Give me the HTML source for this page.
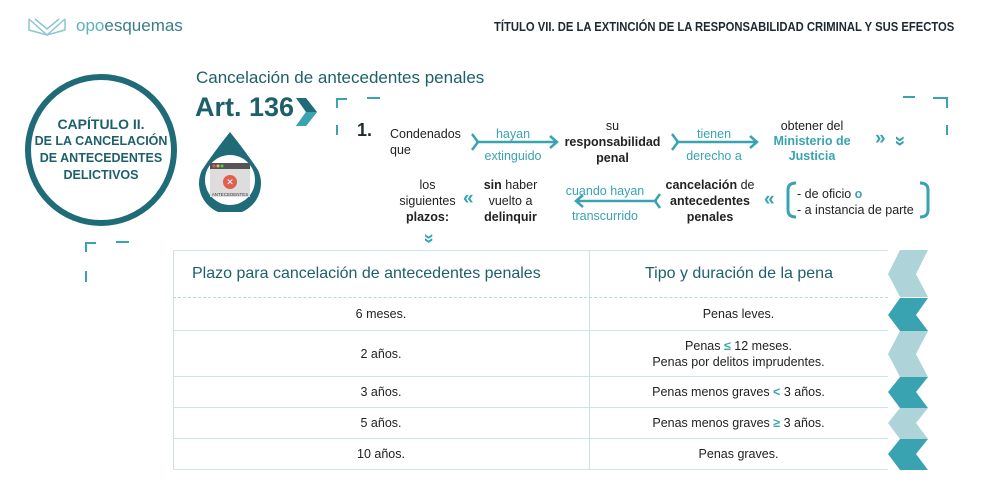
<!DOCTYPE html>
<html><head><meta charset="utf-8"><style>
*{margin:0;padding:0;box-sizing:border-box}
body{width:985px;height:483px;background:#fff;position:relative;overflow:hidden;font-family:"Liberation Sans",sans-serif;color:#222}
.a{position:absolute}
.c{text-align:center}
.t{color:#3aa3b1}
.dk{color:#1d5f6b}
b{font-weight:bold}
.row{position:absolute;left:173px;width:715px;border-bottom:1px solid #cde3e8;font-size:12.5px;display:flex;align-items:center}
.row div{flex:none;text-align:center}
</style></head><body>
<!-- logo -->
<svg class="a" style="left:27px;top:16px" width="44" height="22"><g fill="none" stroke="#8cc6d0" stroke-width="1.5"><path d="M2 3 L20 19 L38 3"/><path d="M2 3 L2 14 L20 19 L38 14 L38 3"/><path d="M8 3 L20 13 L32 3"/></g></svg>
<div class="a t" style="left:76px;top:16px;font-size:17px;color:#5bb3c2">opo<span style="color:#3a7d8a">esquemas</span></div>
<div class="a" style="left:494px;top:20px;width:455px;white-space:nowrap;font-size:12.5px;font-weight:bold;color:#1e2a30;transform:scaleX(0.9);transform-origin:left top">TÍTULO VII. DE LA EXTINCIÓN DE LA RESPONSABILIDAD CRIMINAL Y SUS EFECTOS</div>
<!-- circle -->
<div class="a" style="left:25px;top:74px;width:152px;height:152px;border:6px solid #1f6b78;border-radius:50%"></div>
<div class="a c dk" style="left:30px;top:116px;width:142px;font-weight:bold;line-height:17px;font-size:14px">CAPÍTULO II.<div style="font-size:12.5px;line-height:17px">DE LA CANCELACIÓN<br>DE ANTECEDENTES<br>DELICTIVOS</div></div>
<div class="a dk" style="left:196px;top:68px;font-size:17px">Cancelación de antecedentes penales</div>
<div class="a dk" style="left:195px;top:92px;font-size:27px;font-weight:bold">Art. 136</div>
<svg class="a" style="left:296px;top:98px" width="22" height="28"><polygon points="0,0 10,0 21,14 10,28 0,28 10,14" fill="#1f6b78"/><polygon points="0,14 21,14 10,28 0,28 10,14" fill="#3aa3b1"/></svg>
<!-- drop -->
<svg class="a" style="left:196px;top:130px" width="68" height="82"><path d="M34 2 Q50 22 62 40 A31 31 0 1 1 6 40 Q18 22 34 2Z" fill="#1f6b78"/><circle cx="34" cy="50" r="25" fill="#fff"/><rect x="14" y="33" width="40" height="34" fill="#ddd"/><rect x="14" y="33" width="40" height="6" fill="#555"/><circle cx="18" cy="36" r="1.5" fill="#e55"/><circle cx="22" cy="36" r="1.5" fill="#eb3"/><circle cx="26" cy="36" r="1.5" fill="#5c5"/><circle cx="34" cy="52" r="7" fill="#e06050"/><text x="34" y="55" font-size="9" fill="#fff" text-anchor="middle" font-family="Liberation Sans">✕</text><text x="34" y="66" font-size="4.5" fill="#333" text-anchor="middle" font-family="Liberation Sans">ANTECEDENTES</text></svg>
<!-- brackets -->
<svg class="a" style="left:0;top:0" width="985" height="483"><g stroke="#3aa3b1" stroke-width="2" fill="none"><path d="M337 108 V99 H347"/><path d="M367 98 H380"/><path d="M337 125 V135"/><path d="M903 97 H915"/><path d="M933 98 H947 V108"/><path d="M947 125 V135"/><path d="M86 252 V243 H96"/><path d="M116 242 H129"/><path d="M86 271 V282"/>
<path d="M472 134 L478 142 L472 150 M476 142 H556 M550 136 L557 142 L550 148" stroke-width="2.5"/>
<path d="M672 134 L678 142 L672 150 M676 142 H756 M750 136 L757 142 L750 148" stroke-width="2.5"/>
<path d="M660 194 L655 201 L660 208 M657 201 H577 M583 195 L576 201 L583 207" stroke-width="2.5"/>
<path d="M796 183 Q788 183 788 190 V210 Q788 217 796 217" stroke-width="3"/>
<path d="M920 183 Q928 183 928 190 V210 Q928 217 920 217" stroke-width="3"/></g></svg>
<div class="a" style="left:357px;top:120px;font-size:18px;font-weight:bold;color:#1e2a30">1.</div>
<div class="a" style="left:390px;top:126px;font-size:12.5px;line-height:16px">Condenados<br>que</div>
<div class="a c t" style="left:476px;top:123px;width:74px;font-size:12.5px;line-height:22px">hayan<br>extinguido</div>
<div class="a c" style="left:560px;top:118px;width:105px;font-size:12.5px;line-height:16px">su<br><b>responsabilidad</b><br><b>penal</b></div>
<div class="a c t" style="left:674px;top:123px;width:80px;font-size:12.5px;line-height:22px">tienen<br>derecho a</div>
<div class="a c" style="left:762px;top:119px;width:100px;font-size:12.5px;line-height:15px">obtener del<br><b class="t">Ministerio de<br>Justicia</b></div>
<div class="a t" style="left:875px;top:128px;font-size:19px;font-weight:bold">»</div>
<div class="a t" style="left:894px;top:130px;font-size:19px;font-weight:bold;transform:rotate(90deg)">»</div>
<div class="a c" style="left:390px;top:177px;width:75px;font-size:12.5px;line-height:16px">los<br>siguientes<br><b>plazos:</b></div>
<div class="a t" style="left:463px;top:188px;font-size:19px;font-weight:bold">«</div>
<div class="a c" style="left:478px;top:177px;width:65px;font-size:12.5px;line-height:16px"><b>sin</b> haber<br>vuelto a<br><b>delinquir</b></div>
<div class="a c t" style="left:560px;top:179px;width:90px;font-size:12.5px;line-height:25px">cuando hayan<br>transcurrido</div>
<div class="a c" style="left:660px;top:177px;width:100px;font-size:12.5px;line-height:16px"><b>cancelación</b> de<br><b>antecedentes</b><br><b>penales</b></div>
<div class="a t" style="left:764px;top:189px;font-size:19px;font-weight:bold">«</div>
<div class="a" style="left:797px;top:186px;font-size:12.5px;line-height:16px">- de oficio <b class="t">o</b><br>- a instancia de parte</div>
<div class="a t" style="left:424px;top:228px;font-size:18px;font-weight:bold;transform:rotate(90deg)">»</div>
<!-- table -->
<div class="a" style="left:173px;top:250px;width:715px;height:220px;border-left:1px solid #cde3e8;border-top:1px solid #cde3e8"></div>
<div class="a" style="left:589px;top:250px;width:1px;height:220px;background:#cde3e8"></div>
<div class="a" style="left:173px;top:297px;width:715px;border-top:1px dashed #b8d8de"></div>
<div class="a dk" style="left:192px;top:265px;font-size:16px">Plazo para cancelación de antecedentes penales</div>
<div class="a dk c" style="left:590px;top:265px;width:298px;font-size:16px">Tipo y duración de la pena</div>
<div class="row" style="top:298px;height:33px"><div style="width:416px">6 meses.</div><div style="width:299px">Penas leves.</div></div>
<div class="row" style="top:331px;height:46px"><div style="width:416px">2 años.</div><div style="width:299px;line-height:16px">Penas <b class="t">≤</b> 12 meses.<br>Penas por delitos imprudentes.</div></div>
<div class="row" style="top:377px;height:31px"><div style="width:416px">3 años.</div><div style="width:299px">Penas menos graves <b class="t">&lt;</b> 3 años.</div></div>
<div class="row" style="top:408px;height:31px"><div style="width:416px">5 años.</div><div style="width:299px">Penas menos graves <b class="t">≥</b> 3 años.</div></div>
<div class="row" style="top:439px;height:31px"><div style="width:416px">10 años.</div><div style="width:299px">Penas graves.</div></div>
<svg class="a" style="left:886px;top:250px" width="44" height="220">
<polygon points="14,0 42,0 30,24 42,47 14,47 2,24" fill="#aed4da"/>
<polygon points="14,48 42,48 30,65 42,81 14,81 2,65" fill="#3aa3b1"/>
<polygon points="14,81 42,81 30,104 42,127 14,127 2,104" fill="#aed4da"/>
<polygon points="14,127 42,127 30,142 42,158 14,158 2,142" fill="#3aa3b1"/>
<polygon points="14,158 42,158 30,173 42,189 14,189 2,173" fill="#aed4da"/>
<polygon points="14,189 42,189 30,204 42,220 14,220 2,204" fill="#3aa3b1"/>
</svg>
</body></html>
